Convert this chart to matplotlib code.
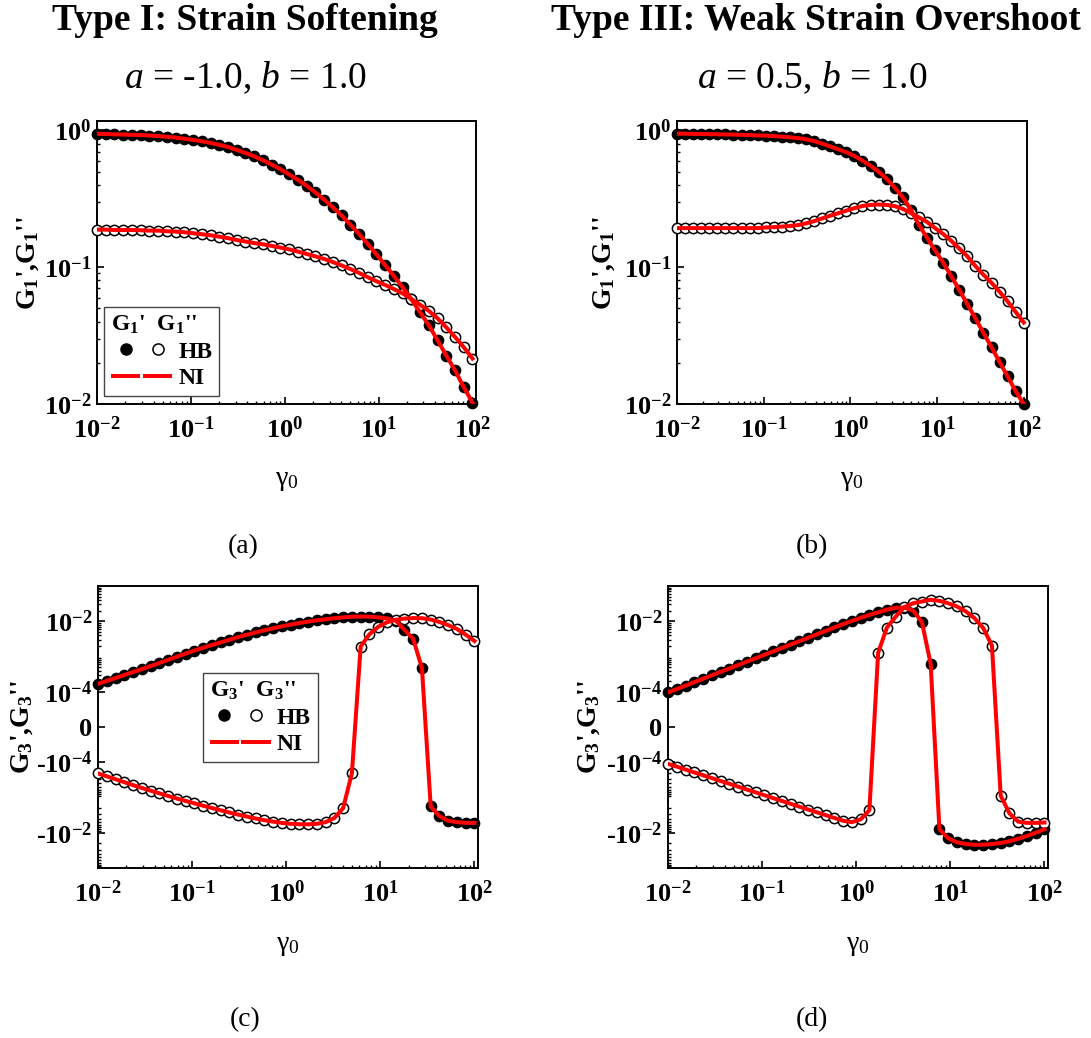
import numpy as np
import matplotlib
matplotlib.use('Agg')
import matplotlib.pyplot as plt
from matplotlib.lines import Line2D
from matplotlib.legend_handler import HandlerTuple
from matplotlib.ticker import SymmetricalLogLocator

plt.rcParams['font.family'] = 'Liberation Serif'
plt.rcParams['font.weight'] = 'bold'
plt.rcParams['axes.labelweight'] = 'bold'
plt.rcParams['mathtext.fontset'] = 'custom'
plt.rcParams['mathtext.rm'] = 'Liberation Serif:weight=normal'
plt.rcParams['mathtext.it'] = 'Liberation Serif:style=italic:weight=normal'
plt.rcParams['mathtext.bf'] = 'Liberation Serif:weight=bold'
plt.rcParams['axes.unicode_minus'] = False

# strain amplitude grid (same for every panel)
gamma0 = [0.01, 0.01239, 0.01535, 0.01901, 0.02356, 0.02918, 0.03615, 0.04479, 0.05549, 0.06874,
          0.08516, 0.1055, 0.1307, 0.1619, 0.2006, 0.2485, 0.3079, 0.3814, 0.4725, 0.5854,
          0.7252, 0.8985, 1.113, 1.379, 1.708, 2.116, 2.622, 3.248, 4.024, 4.985,
          6.176, 7.651, 9.479, 11.74, 14.55, 18.02, 22.33, 27.66, 34.27, 42.46,
          52.59, 65.16, 80.72, 100.0]

# (a) Type I, first harmonic
g1p_a = [0.944, 0.940, 0.935, 0.931, 0.927, 0.923, 0.916, 0.908, 0.897, 0.885,
         0.869, 0.851, 0.832, 0.809, 0.783, 0.755, 0.719, 0.684, 0.646, 0.605,
         0.562, 0.520, 0.476, 0.435, 0.394, 0.352, 0.312, 0.274, 0.239, 0.205,
         0.175, 0.148, 0.124, 0.1035, 0.0861, 0.0714, 0.0581, 0.0468, 0.0376, 0.0292,
         0.0226, 0.0176, 0.0133, 0.0102]
g1pp_a = [0.188, 0.188, 0.187, 0.187, 0.187, 0.186, 0.185, 0.185, 0.183, 0.182,
          0.180, 0.177, 0.174, 0.171, 0.167, 0.163, 0.158, 0.154, 0.150, 0.147,
          0.143, 0.139, 0.135, 0.130, 0.125, 0.120, 0.115, 0.109, 0.103, 0.0970,
          0.0908, 0.0845, 0.0789, 0.0741, 0.0692, 0.0643, 0.0586, 0.0531, 0.0479, 0.0422,
          0.0363, 0.0309, 0.0260, 0.0215]

# (b) Type III, first harmonic
g1p_b = [0.946, 0.944, 0.942, 0.940, 0.938, 0.935, 0.933, 0.931, 0.927, 0.923,
         0.918, 0.914, 0.908, 0.899, 0.889, 0.877, 0.861, 0.834, 0.800, 0.762,
         0.726, 0.692, 0.650, 0.600, 0.551, 0.499, 0.442, 0.382, 0.324, 0.263,
         0.204, 0.164, 0.133, 0.108, 0.0861, 0.0684, 0.0537, 0.0423, 0.0331, 0.0260,
         0.0203, 0.0159, 0.0124, 0.0100]
g1pp_b = [0.193, 0.193, 0.193, 0.193, 0.193, 0.193, 0.193, 0.193, 0.193, 0.193,
          0.193, 0.195, 0.196, 0.198, 0.200, 0.203, 0.209, 0.217, 0.227, 0.238,
          0.248, 0.259, 0.270, 0.280, 0.285, 0.287, 0.285, 0.279, 0.267, 0.248,
          0.231, 0.214, 0.193, 0.175, 0.156, 0.137, 0.120, 0.102, 0.0881, 0.0769,
          0.0661, 0.0562, 0.0470, 0.0394]

# (c) Type I, third harmonic
g3p_c = [1.67e-4, 2.03e-4, 2.45e-4, 2.98e-4, 3.61e-4, 4.39e-4, 5.35e-4, 6.53e-4, 8.02e-4, 9.84e-4,
         1.21e-3, 1.47e-3, 1.77e-3, 2.11e-3, 2.51e-3, 2.99e-3, 3.55e-3, 4.15e-3, 4.81e-3, 5.53e-3,
         6.31e-3, 7.16e-3, 8.04e-3, 8.91e-3, 9.77e-3, 1.06e-2, 1.14e-2, 1.22e-2, 1.29e-2, 1.34e-2,
         1.36e-2, 1.35e-2, 1.29e-2, 1.20e-2, 1.05e-2, 5.75e-3, 3.16e-3, 4.70e-4, -1.78e-3, -3.39e-3,
         -4.57e-3, -5.01e-3, -5.25e-3, -5.25e-3]
g3pp_c = [-2.08e-4, -2.51e-4, -3.03e-4, -3.67e-4, -4.45e-4, -5.35e-4, -6.38e-4, -7.59e-4, -9.02e-4, -1.07e-3,
          -1.25e-3, -1.46e-3, -1.71e-3, -1.99e-3, -2.30e-3, -2.66e-3, -3.05e-3, -3.48e-3, -3.94e-3, -4.40e-3,
          -4.84e-3, -5.25e-3, -5.56e-3, -5.75e-3, -5.78e-3, -5.56e-3, -5.01e-3, -3.80e-3, -2.00e-3, -2.04e-4,
          1.91e-3, 4.27e-3, 6.92e-3, 9.33e-3, 1.10e-2, 1.19e-2, 1.23e-2, 1.22e-2, 1.12e-2, 9.55e-3,
          7.76e-3, 6.03e-3, 4.17e-3, 2.75e-3]

# (d) Type III, third harmonic
g3p_d = [9.80e-5, 1.19e-4, 1.49e-4, 1.87e-4, 2.33e-4, 2.92e-4, 3.65e-4, 4.56e-4, 5.70e-4, 7.13e-4,
         8.91e-4, 1.11e-3, 1.39e-3, 1.74e-3, 2.18e-3, 2.72e-3, 3.40e-3, 4.26e-3, 5.32e-3, 6.65e-3,
         8.28e-3, 1.02e-2, 1.25e-2, 1.51e-2, 1.78e-2, 2.14e-2, 2.40e-2, 2.45e-2, 2.00e-2, 9.55e-3,
         6.17e-4, -7.94e-3, -1.43e-2, -1.86e-2, -2.09e-2, -2.19e-2, -2.19e-2, -2.09e-2, -1.95e-2, -1.74e-2,
         -1.48e-2, -1.23e-2, -1.00e-2, -7.94e-3]
g3pp_d = [-1.11e-4, -1.33e-4, -1.61e-4, -1.94e-4, -2.33e-4, -2.81e-4, -3.39e-4, -4.08e-4, -4.92e-4, -5.93e-4,
          -7.14e-4, -8.61e-4, -1.04e-3, -1.25e-3, -1.51e-3, -1.82e-3, -2.19e-3, -2.63e-3, -3.16e-3, -3.80e-3,
          -4.57e-3, -5.01e-3, -4.17e-3, -2.29e-3, 1.26e-3, 6.61e-3, 1.35e-2, 2.51e-2, 3.24e-2, 3.63e-2,
          4.07e-2, 3.80e-2, 3.24e-2, 2.63e-2, 1.91e-2, 1.23e-2, 6.46e-3, 2.04e-3, -8.91e-4, -2.82e-3,
          -4.84e-3, -5.25e-3, -5.25e-3, -5.13e-3]

sym_ticks = [-1e-2, -1e-4, 0, 1e-4, 1e-2]
sym_labels = [r'-$\mathdefault{10^{-2}}$', r'-$\mathdefault{10^{-4}}$', '0',
              r'$\mathdefault{10^{-4}}$', r'$\mathdefault{10^{-2}}$']

W, H = 1091, 1038
fig = plt.figure(figsize=(W / 100, H / 100), dpi=100)


def box(l, r, t, b):
    return [l / W, 1 - b / H, (r - l) / W, (b - t) / H]


def draw(ax, gp, gpp):
    ax.plot(gamma0, gp, ls='none', marker='o', ms=7.4, mfc='black', mec='black', clip_on=False, zorder=3)
    ax.plot(gamma0, gpp, ls='none', marker='o', ms=7.4, mfc='white', mec='black', mew=1.1,
            clip_on=False, zorder=3)
    ax.plot(gamma0, gp, color='red', lw=2.9, zorder=4)
    ax.plot(gamma0, gpp, color='red', lw=2.9, zorder=4)
    ax.set_xscale('log')
    ax.set_xlim(0.01, 109)
    ax.tick_params(which='both', direction='in', top=False, right=False, labelsize=19)
    ax.tick_params(which='major', length=5, width=1.2)
    ax.tick_params(which='minor', length=2.5, width=1.0)
    ax.tick_params(axis='x', pad=9)
    ax.tick_params(axis='y', pad=4)
    for s in ax.spines.values():
        s.set_linewidth(1.4)
    ax.set_xlabel(r'γ$_\mathdefault{0}$', fontsize=20, fontweight='normal')


def add_legend(ax, sub, anchor):
    h_fill = Line2D([], [], ls='none', marker='o', ms=8, mfc='black', mec='black')
    h_open = Line2D([], [], ls='none', marker='o', ms=8, mfc='white', mec='black', mew=1.1)
    h_line = Line2D([], [], color='red', lw=2.9, solid_capstyle='butt')
    leg = ax.legend([(h_fill, h_open), (h_line, h_line)], ['HB', 'NI'],
                    handler_map={tuple: HandlerTuple(ndivide=None, pad=0.1)},
                    title="G$_\\mathdefault{%s}$'  G$_\\mathdefault{%s}$''" % (sub, sub),
                    title_fontsize=17, fontsize=17, alignment='left',
                    loc='lower left', bbox_to_anchor=anchor, borderaxespad=0,
                    fancybox=False, edgecolor='#444444', framealpha=1,
                    handlelength=2.6, handletextpad=0.25, borderpad=0.3, labelspacing=0.2)
    leg.get_frame().set_linewidth(1.0)


# top row: first harmonics
ax_a = fig.add_axes(box(97, 476, 121, 404))
ax_b = fig.add_axes(box(677, 1027, 121, 404))
for ax, gp, gpp in [(ax_a, g1p_a, g1pp_a), (ax_b, g1p_b, g1pp_b)]:
    draw(ax, gp, gpp)
    ax.set_yscale('log')
    ax.set_ylim(0.01, 1.17)
    ax.set_ylabel("G$_\\mathdefault{1}$',G$_\\mathdefault{1}$''", fontsize=20, fontweight='bold')
    ax.xaxis.set_label_coords(0.5, -0.225)
ax_a.yaxis.set_label_coords(-0.148, 0.5)
ax_b.yaxis.set_label_coords(-0.171, 0.5)
add_legend(ax_a, '1', (0.018, 0.028))

# bottom row: third harmonics
ax_c = fig.add_axes(box(98, 478, 586, 868))
ax_d = fig.add_axes(box(668, 1048, 586, 868))
for ax, gp, gpp in [(ax_c, g3p_c, g3pp_c), (ax_d, g3p_d, g3pp_d)]:
    draw(ax, gp, gpp)
    ax.set_yscale('symlog', linthresh=1e-4, linscale=0.9)
    ax.set_ylim(-0.1, 0.1)
    ax.set_yticks(sym_ticks)
    ax.set_yticklabels(sym_labels)
    ax.yaxis.set_minor_locator(SymmetricalLogLocator(linthresh=1e-4, base=10, subs=np.arange(2, 10)))
    ax.set_ylabel("G$_\\mathdefault{3}$',G$_\\mathdefault{3}$''", fontsize=20, fontweight='bold')
    ax.xaxis.set_label_coords(0.5, -0.23)
ax_c.yaxis.set_label_coords(-0.166, 0.5)
ax_d.yaxis.set_label_coords(-0.174, 0.5)
add_legend(ax_c, '3', (0.275, 0.376))

# titles and panel tags
fig.text(245 / W, 1 - 30 / H, 'Type I: Strain Softening', ha='center', va='baseline', fontsize=27)
fig.text(816 / W, 1 - 30 / H, 'Type III: Weak Strain Overshoot', ha='center', va='baseline', fontsize=27)
fig.text(245 / W, 1 - 88 / H, r'$a$ = -1.0, $b$ = 1.0', ha='center', va='baseline',
         fontsize=27, fontweight='normal')
fig.text(812 / W, 1 - 88 / H, r'$a$ = 0.5, $b$ = 1.0', ha='center', va='baseline',
         fontsize=27, fontweight='normal')
for tag, x, y in [('(a)', 243, 547), ('(b)', 812, 547), ('(c)', 245, 1020), ('(d)', 812, 1020)]:
    fig.text(x / W, 1 - y / H, tag, ha='center', va='center', fontsize=20, fontweight='normal')

fig.savefig('out.png', dpi=100)
